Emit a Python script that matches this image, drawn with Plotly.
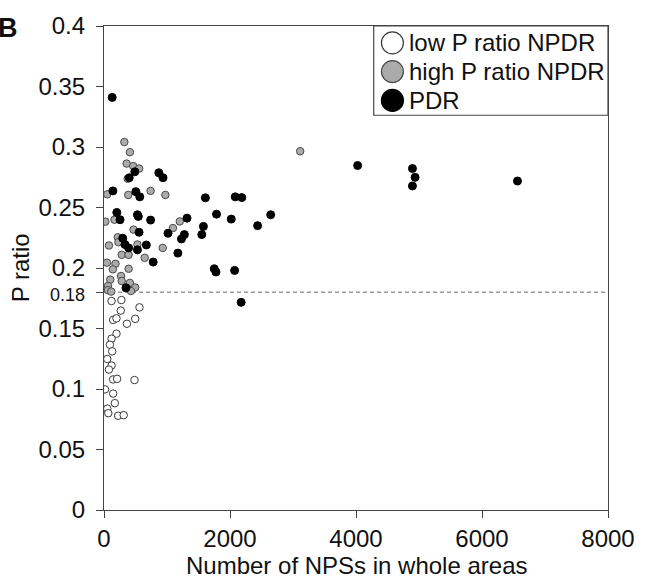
import plotly.graph_objects as go

# ---- data ----
low_x = [120, 276, 266, 563, 145, 198, 364, 495, 198, 120, 94, 130, 52, 120, 78,
         145, 208, 484, 16, 145, 172, 52, 68, 224, 312]
low_y = [0.1727, 0.1735, 0.1648, 0.1675, 0.1571, 0.1584, 0.1539, 0.158, 0.1457, 0.1416,
         0.1366, 0.1311, 0.1248, 0.1194, 0.1161, 0.1079, 0.1084, 0.1074, 0.0997, 0.0962,
         0.0883, 0.0838, 0.080, 0.0779, 0.0784]

high_x = [323, 411, 359, 464, 557, 375, 52, 385, 740, 974,
          21, 167, 1203, 1094, 469, 219, 229, 531, 78, 932,
          281, 391, 646, 47, 182, 141, 391, 271, 281, 99,
          411, 63, 495, 63, 427, 115, 3114]
high_y = [0.3041, 0.2957, 0.2863, 0.2842, 0.2822, 0.2738, 0.2609, 0.2604, 0.2637, 0.2604,
          0.2383, 0.2399, 0.2385, 0.233, 0.2317, 0.2254, 0.2213, 0.2194, 0.2186, 0.2166,
          0.2109, 0.2109, 0.2084, 0.2044, 0.2035, 0.1989, 0.1994, 0.1934, 0.1893, 0.1904,
          0.1877, 0.1852, 0.1839, 0.1817, 0.181, 0.1805, 0.2965]

pdr_x = [130, 489, 401, 870, 937, 141, 505, 568, 1609, 203,
         255, 531, 545, 740, 1318, 1016, 1276, 1229, 1578, 1552,
         557, 297, 333, 672, 391, 531, 1172, 781, 349, 2083,
         2188, 1786, 2020, 2646, 2438, 1750, 1777, 2073, 2177, 4026,
         4896, 4938, 4896, 6563]
pdr_y = [0.341, 0.2795, 0.2746, 0.2787, 0.2746, 0.2637, 0.2631, 0.2588, 0.258, 0.2459,
         0.2399, 0.244, 0.2426, 0.2396, 0.2412, 0.2287, 0.2276, 0.224, 0.2344, 0.2276,
         0.2295, 0.2246, 0.2194, 0.219, 0.2166, 0.215, 0.2123, 0.2049, 0.1836, 0.2588,
         0.2582, 0.2445, 0.2404, 0.244, 0.235, 0.1994, 0.1967, 0.198, 0.1716, 0.2847,
         0.2822, 0.2749, 0.2678, 0.2719]

threshold = 0.18
series_names = ["low P ratio NPDR", "high P ratio NPDR", "PDR"]
y_tickvals = [0, 0.05, 0.1, 0.15, 0.2, 0.25, 0.3, 0.35, 0.4]
y_ticktext = ["0", "0.05", "0.1", "0.15", "0.2", "0.25", "0.3", "0.35", "0.4"]
x_tickvals = [0, 2000, 4000, 6000, 8000]

FONT = "Liberation Sans, Arial, sans-serif"
fill_colors = ["white", "#ababab", "black"]
line_colors = ["#3a3a3a", "#4a4a4a", "black"]

fig = go.Figure()
for name, xs, ys, fc, lc, sz in zip(series_names, [low_x, high_x, pdr_x], [low_y, high_y, pdr_y],
                                    fill_colors, line_colors, [7.5, 7.5, 8]):
    fig.add_trace(go.Scatter(
        x=xs, y=ys, mode="markers", name=name, showlegend=False,
        marker=dict(size=sz, color=fc, line=dict(color=lc, width=1)),
    ))

# threshold dotted line
fig.add_shape(type="line", xref="x", yref="y", x0=0, x1=8000, y0=threshold, y1=threshold,
              line=dict(color="#9a9a9a", width=1.5, dash="4px,3px"), layer="below")

axis_common = dict(showline=True, linecolor="#444", linewidth=1.2, mirror=True,
                   ticks="outside", ticklen=7, tickcolor="#444", tickwidth=1.2,
                   showgrid=False, zeroline=False,
                   tickfont=dict(family=FONT, size=24, color="#111"))

fig.update_xaxes(range=[0, 8000], tickvals=x_tickvals,
                 ticktext=[str(v) for v in x_tickvals], **axis_common)
fig.update_yaxes(range=[0, 0.4],
                 tickvals=y_tickvals + [threshold],
                 ticktext=y_ticktext + ["<span style='font-size:18px'>0.18</span>"],
                 ticklabelstandoff=6,
                 **axis_common)

# manual legend (box, big markers, labels)
px_to_paper_x = lambda p: (p - 104) / 512.0
px_to_paper_y = lambda p: (510 - p) / 488.0
fig.add_shape(type="rect", xref="paper", yref="paper",
              x0=px_to_paper_x(378), x1=1.0, y0=px_to_paper_y(112), y1=1.0,
              line=dict(color="#444", width=1.2), fillcolor="white")
row_y = [39, 68, 97]
for name, fc, lc, ry in zip(series_names, fill_colors, line_colors, row_y):
    fig.add_shape(type="circle", xref="paper", yref="paper",
                  xsizemode="pixel", ysizemode="pixel",
                  xanchor=px_to_paper_x(397), yanchor=px_to_paper_y(ry),
                  x0=-11, x1=11, y0=-11, y1=11,
                  line=dict(color=lc, width=1.2), fillcolor=fc)
    fig.add_annotation(xref="paper", yref="paper", x=px_to_paper_x(412), y=px_to_paper_y(ry),
                       xanchor="left", yanchor="middle", showarrow=False, text=name,
                       font=dict(family=FONT, size=24, color="#111"))

# axis titles and panel letter
fig.add_annotation(xref="paper", yref="paper", x=0.5, y=px_to_paper_y(566),
                   xanchor="center", yanchor="middle", showarrow=False,
                   text="Number of NPSs in whole areas",
                   font=dict(family=FONT, size=24, color="#111"))
fig.add_annotation(xref="paper", yref="paper", x=px_to_paper_x(19), y=0.5,
                   xanchor="center", yanchor="middle", showarrow=False, textangle=-90,
                   text="P ratio", font=dict(family=FONT, size=24, color="#111"))
fig.add_annotation(xref="paper", yref="paper", x=px_to_paper_x(-6), y=px_to_paper_y(24),
                   xanchor="left", yanchor="middle", showarrow=False,
                   text="<b>B</b>", font=dict(family=FONT, size=27, color="#111"))

fig.update_layout(width=647, height=585, margin=dict(l=104, r=31, t=22, b=75),
                  paper_bgcolor="white", plot_bgcolor="white", showlegend=False)

fig.write_html("out.html")
